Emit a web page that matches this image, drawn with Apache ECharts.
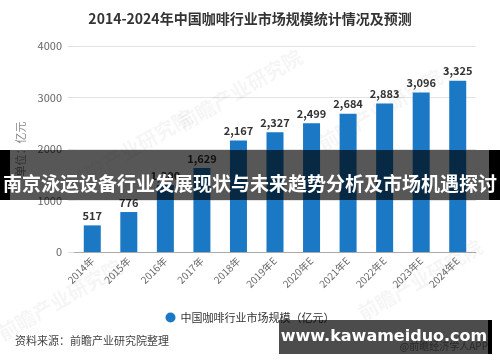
<!DOCTYPE html>
<html><head><meta charset="utf-8">
<script src="https://cdn.jsdelivr.net/npm/echarts@6/dist/echarts.min.js"></script>
<style>html,body{margin:0;padding:0;background:#fff}#c{width:500px;height:362px}</style>
</head><body><div id="c"></div>
<script>
var titleText = '2014-2024年中国咖啡行业市场规模统计情况及预测';
var categories = ['2014年','2015年','2016年','2017年','2018年','2019年E','2020年E','2021年E','2022年E','2023年E','2024年E'];
var marketSize = [517, 776, 1300, 1629, 2167, 2327, 2499, 2684, 2883, 3096, 3325];
var seriesName = '中国咖啡行业市场规模（亿元）';
var yTicks = [0, 1000, 2000, 3000, 4000];
var yAxisName = '单位：亿元';
var sourceText = '资料来源：前瞻产业研究院整理';
var bannerText = '南京泳运设备行业发展现状与未来趋势分析及市场机遇探讨';
var siteText = 'www.kawameiduo.com';
var appText = '@前瞻经济学人APP';
var watermark = '前瞻产业研究院';

var FONT = '"Noto Sans CJK SC","Microsoft YaHei",sans-serif';
var chart = echarts.init(document.getElementById('c'), null, {renderer: 'canvas'});

var wm = [[60,300],[240,90],[420,280],[130,150],[380,110]].map(function(p){
  return {type:'text', x:p[0], y:p[1], rotation: Math.PI/6, z: 1,
    style:{text: watermark, fill:'rgba(0,0,0,0.04)', font:'bold 20px '+FONT, align:'center', verticalAlign:'middle'}};
});

chart.setOption({
  animation: false,
  textStyle: {fontFamily: FONT},
  title: {text: titleText, left: 'center', top: 7,
    textStyle: {fontSize: 14, fontWeight: 'bold', color: '#333', fontFamily: FONT}},
  grid: {left: 74, right: 24, top: 46, bottom: 110},
  legend: {data: [seriesName], top: 307, left: 'center', icon: 'circle', itemWidth: 10, itemHeight: 10, itemGap: 6,
    textStyle: {fontSize: 11, color: '#333', fontFamily: FONT}},
  xAxis: {type: 'category', data: categories,
    axisLine: {lineStyle: {color: '#aaa'}},
    axisTick: {alignWithLabel: true, length: 5, lineStyle: {color: '#aaa'}},
    axisLabel: {rotate: 45, fontSize: 10, color: '#666', margin: 7, fontFamily: FONT}},
  yAxis: {type: 'value', min: yTicks[0], max: yTicks[yTicks.length-1], interval: 1000,
    name: yAxisName, nameLocation: 'middle', nameGap: 35, nameRotate: 90,
    nameTextStyle: {fontSize: 11, color: '#888', fontFamily: FONT},
    axisLine: {show: false},
    axisTick: {show: true, length: 6, lineStyle: {color: '#ddd'}},
    axisLabel: {fontSize: 11, color: '#666', margin: 12, fontFamily: FONT,
      formatter: function(v){ return String(v); }},
    splitLine: {lineStyle: {color: '#e3e3e3'}}},
  series: [{name: seriesName, type: 'bar', data: marketSize, barWidth: 17,
    itemStyle: {color: '#1a78c4'},
    label: {show: true, position: 'top', distance: 4, fontSize: 11, fontWeight: 'bold', color: '#333',
      formatter: function(p){ return p.value.toLocaleString('en-US'); }}}],
  graphic: wm.concat([
    {type:'text', left: 15, top: 335, z: 10,
      style:{text: sourceText, fill:'#444', font:'11px '+FONT}},
    {type:'rect', shape:{x:0, y:150, width:500, height:50}, z: 100,
      style:{fill:'rgba(0,0,0,0.66)'}},
    {type:'rect', shape:{x:0, y:150, width:10, height:50}, z: 101, style:{fill:'#000'}},
    {type:'rect', shape:{x:489, y:150, width:11, height:50}, z: 101, style:{fill:'#000'}},
    {type:'text', x:250, y:184, z: 102,
      style:{text: bannerText, fill:'#fff', font:'bold 19px '+FONT, align:'center', verticalAlign:'middle'}},
    {type:'text', x:488, y:346, z: 50,
      style:{text: appText, fill:'#888', font:'10px '+FONT, align:'right', verticalAlign:'middle'}},
    {type:'rect', shape:{x:279, y:320, width:210, height:34}, z: 100,
      style:{fill:'rgba(0,0,0,0.7)'}},
    {type:'rect', shape:{x:488, y:320, width:4, height:34}, z: 101, style:{fill:'#000'}},
    {type:'text', x:384, y:337, z: 102,
      style:{text: siteText, fill:'#fff', font:'bold 16px "DejaVu Sans",sans-serif', align:'center', verticalAlign:'middle'}}
  ])
});
</script></body></html>
